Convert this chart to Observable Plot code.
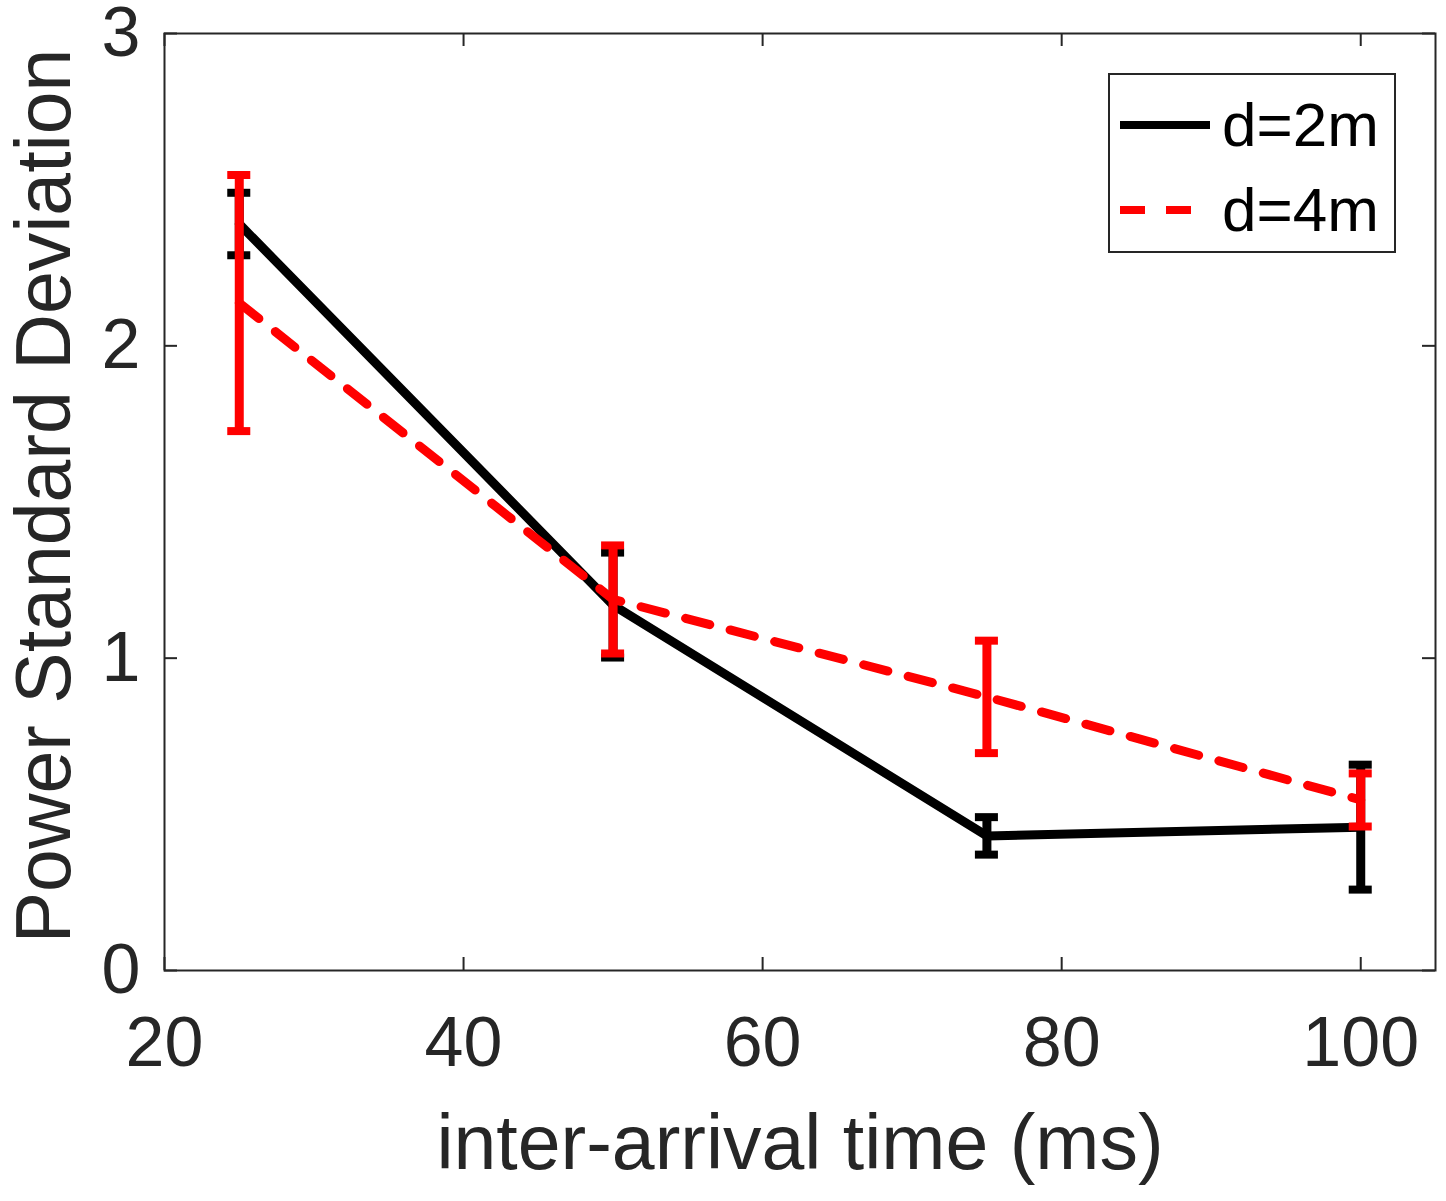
<!DOCTYPE html>
<html>
<head>
<meta charset="utf-8">
<script src="https://cdn.jsdelivr.net/npm/d3@7"></script>
<script src="https://cdn.jsdelivr.net/npm/@observablehq/plot@0.6"></script>
<style>
  html, body { margin: 0; padding: 0; background: white; }
  #wrap { position: relative; width: 1446px; height: 1201px; font-family: "Liberation Sans", Arial, Helvetica, sans-serif; }
  #legend { position: absolute; left: 1108px; top: 73px; width: 284px; height: 176px; border: 2px solid #262626; background: white; }
  .entry { position: absolute; left: 10px; display: flex; align-items: center; font-size: 62px; color: #000; }
  .entry svg { margin-right: 12px; }
</style>
</head>
<body>
<div id="wrap"></div>
<script>
const xValues = [25, 50, 75, 100];
const seriesNames = ["d=2m", "d=4m"];
const mean2m = [2.39, 1.17, 0.431, 0.459];
const err2m = [0.10, 0.168, 0.06, 0.20];
const mean4m = [2.137, 1.188, 0.876, 0.546];
const err4m = [0.41, 0.173, 0.18, 0.085];
const xTicks = [20, 40, 60, 80, 100];
const yTicks = [0, 1, 2, 3];

const W = 1446, H = 1201;
const mL = 164, mR = 11, mT = 33, mB = 231;
const plotW = W - mL - mR, plotH = H - mT - mB;
const tickLen = 13;
const capHalf = 0.77; // half cap width in x units
const axisColor = "#262626";
const lw = 9;

const toRows = (means, errs, name) => xValues.map((x, i) => ({x, y: means[i], lo: means[i] - errs[i], hi: means[i] + errs[i], name}));
const s2 = toRows(mean2m, err2m, seriesNames[0]);
const s4 = toRows(mean4m, err4m, seriesNames[1]);

function errMarks(rows, color) {
  return [
    Plot.ruleX(rows, {x: "x", y1: "lo", y2: "hi", stroke: color, strokeWidth: lw}),
    Plot.ruleY(rows, {y: "hi", x1: d => d.x - capHalf, x2: d => d.x + capHalf, stroke: color, strokeWidth: 8}),
    Plot.ruleY(rows, {y: "lo", x1: d => d.x - capHalf, x2: d => d.x + capHalf, stroke: color, strokeWidth: 8})
  ];
}

const chart = Plot.plot({
  width: W, height: H,
  marginLeft: mL, marginRight: mR, marginTop: mT, marginBottom: mB,
  x: {domain: [20, 105]},
  y: {domain: [0, 3]},
  style: {fontFamily: "'Liberation Sans', Arial, Helvetica, sans-serif", color: axisColor, background: "white", overflow: "visible"},
  marks: [
    Plot.frame({stroke: axisColor, strokeWidth: 2}),
    Plot.tickX(xTicks, {x: d => d, insetTop: plotH - tickLen, stroke: axisColor, strokeWidth: 2}),
    Plot.tickX(xTicks, {x: d => d, insetBottom: plotH - tickLen, stroke: axisColor, strokeWidth: 2}),
    Plot.tickY(yTicks, {y: d => d, insetRight: plotW - tickLen, stroke: axisColor, strokeWidth: 2}),
    Plot.tickY(yTicks, {y: d => d, insetLeft: plotW - tickLen, stroke: axisColor, strokeWidth: 2}),
    Plot.axisX({ticks: xTicks, tickSize: 0, tickPadding: 46, fontSize: 70, label: null, tickFormat: d => String(d)}),
    Plot.axisY({ticks: yTicks, tickSize: 0, tickPadding: 24, fontSize: 70, label: null, tickFormat: d => String(d)}),
    Plot.text(["inter-arrival time (ms)"], {frameAnchor: "bottom", dy: 144, lineAnchor: "top", fontSize: 77, fill: axisColor}),
    Plot.text(["Power Standard Deviation"], {frameAnchor: "left", dx: -149, dy: -6, rotate: -90, textAnchor: "middle", lineAnchor: "top", fontSize: 77, fill: axisColor}),
    Plot.line(s2, {x: "x", y: "y", stroke: "#000000", strokeWidth: lw, strokeLinejoin: "miter"}),
    ...errMarks(s2, "#000000"),
    Plot.line(s4, {x: "x", y: "y", stroke: "#ff0000", strokeWidth: lw, strokeDasharray: "25,21"}),
    ...errMarks(s4, "#ff0000")
  ]
});

const wrap = document.getElementById("wrap");
wrap.appendChild(chart);

const legend = document.createElement("div");
legend.id = "legend";
const legendStyles = [{color: "#000000", dash: null, top: 14}, {color: "#ff0000", dash: "25,21", top: 99}];
seriesNames.forEach((name, i) => {
  const st = legendStyles[i];
  const e = document.createElement("div");
  e.className = "entry";
  e.style.top = st.top + "px";
  e.innerHTML = `<svg width="90" height="20"><line x1="0" y1="10" x2="90" y2="10" stroke="${st.color}" stroke-width="8" ${st.dash ? `stroke-dasharray="${st.dash}"` : ""}/></svg><span>${name}</span>`;
  legend.appendChild(e);
});
wrap.appendChild(legend);
</script>
</body>
</html>
